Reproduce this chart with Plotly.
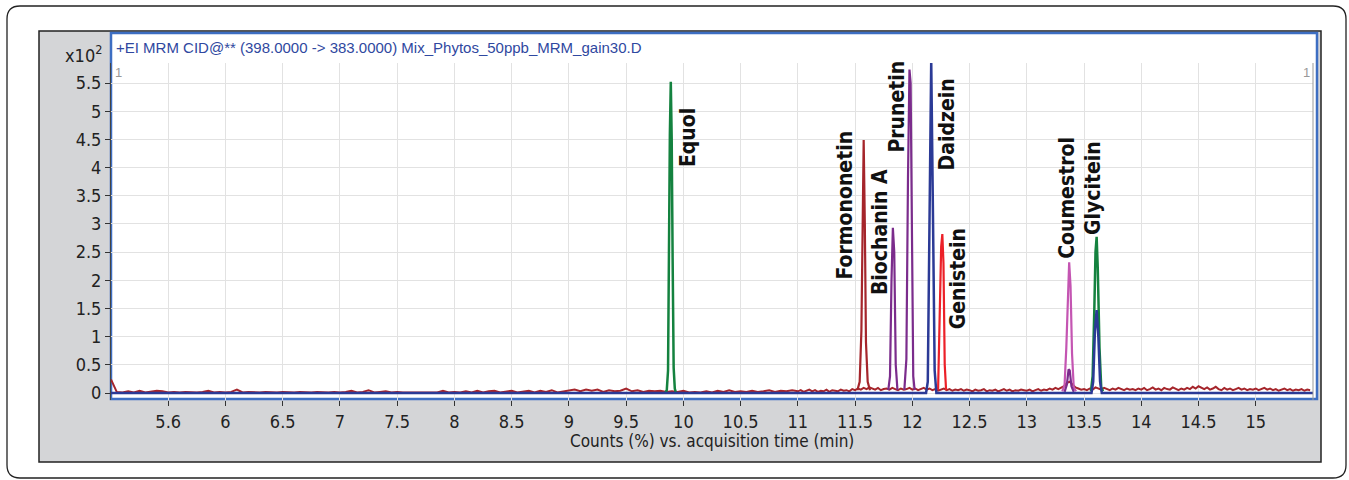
import plotly.graph_objects as go

# ---------------- data ----------------
x_tickvals = [5.5, 6, 6.5, 7, 7.5, 8, 8.5, 9, 9.5, 10, 10.5, 11, 11.5, 12, 12.5, 13, 13.5, 14, 14.5, 15]
x_ticktext = ["5.6", "6", "6.5", "7", "7.5", "8", "8.5", "9", "9.5", "10", "10.5", "11", "11.5", "12",
              "12.5", "13", "13.5", "14", "14.5", "15"]
y_tickvals = [0, 0.5, 1, 1.5, 2, 2.5, 3, 3.5, 4, 4.5, 5, 5.5]
y_ticktext = ["0", "0.5", "1", "1.5", "2", "2.5", "3", "3.5", "4", "4.5", "5", "5.5"]

# baseline noise (x10^2 counts), two sampled stretches
noise_a_start, noise_a_step = 5.0, 0.05
noise_a = [0.24, 0.02, 0.01, 0.03, 0.01, 0.04, 0.01, 0.02, 0.04, 0.03,
           0.01, 0.02, 0.01, 0.02, 0.01, 0.01, 0.02, 0.04, 0.01, 0.02,
           0.01, 0.02, 0.06, 0.01, 0.02, 0.01, 0.01, 0.02, 0.01, 0.01,
           0.02, 0.01, 0.01, 0.02, 0.01, 0.01, 0.02, 0.01, 0.01, 0.02,
           0.01, 0.02, 0.04, 0.01, 0.02, 0.05, 0.01, 0.02, 0.03, 0.01,
           0.02, 0.01, 0.01, 0.02, 0.01, 0.01, 0.02, 0.01, 0.04, 0.01,
           0.02, 0.01, 0.03, 0.01, 0.04, 0.01, 0.03, 0.04, 0.01, 0.03,
           0.04, 0.01, 0.03, 0.04, 0.01, 0.04, 0.02, 0.05, 0.01, 0.03,
           0.05, 0.06, 0.03, 0.06, 0.04, 0.06, 0.02, 0.05, 0.03, 0.04,
           0.08, 0.03, 0.05, 0.02, 0.04, 0.03, 0.04, 0.02, 0.03, 0.02,
           0.04, 0.01, 0.02, 0.01, 0.03, 0.01, 0.04, 0.02, 0.05, 0.02,
           0.03, 0.02, 0.04, 0.02, 0.03, 0.05, 0.02, 0.04, 0.03, 0.05]
noise_b_start, noise_b_step = 11.0, 0.025
noise_b = [0.03, 0.05, 0.02, 0.04, 0.06, 0.03, 0.05, 0.02, 0.04, 0.03, 0.06, 0.02, 0.05, 0.04, 0.03, 0.06, 0.04, 0.05, 0.03, 0.07,
           0.05, 0.08, 0.06, 0.09, 0.07, 0.10, 0.08, 0.06, 0.09, 0.05, 0.07, 0.08, 0.06, 0.09, 0.07, 0.05, 0.08, 0.06, 0.07, 0.09,
           0.06, 0.08, 0.05, 0.07, 0.09, 0.06, 0.08, 0.05, 0.07, 0.04, 0.06, 0.08, 0.05, 0.07, 0.04, 0.06, 0.05, 0.07, 0.04, 0.06,
           0.05, 0.03, 0.06, 0.04, 0.05, 0.07, 0.03, 0.05, 0.04, 0.06, 0.03, 0.05, 0.07, 0.04, 0.06, 0.03, 0.05, 0.04, 0.06, 0.05,
           0.04, 0.06, 0.03, 0.05, 0.07, 0.04, 0.06, 0.05, 0.08, 0.06, 0.09, 0.07, 0.10, 0.12, 0.18, 0.20, 0.15, 0.10, 0.08, 0.06,
           0.07, 0.05, 0.08, 0.06, 0.10, 0.08, 0.06, 0.09, 0.07, 0.05, 0.08, 0.06, 0.09, 0.07, 0.05, 0.08, 0.06, 0.07, 0.05, 0.08,
           0.06, 0.09, 0.05, 0.07, 0.10, 0.06, 0.08, 0.05, 0.09, 0.07, 0.06, 0.10, 0.07, 0.05, 0.08, 0.06, 0.09, 0.07, 0.11, 0.08,
           0.12, 0.09, 0.07, 0.10, 0.06, 0.08, 0.11, 0.07, 0.05, 0.09, 0.06, 0.08, 0.05, 0.07, 0.09, 0.06, 0.08, 0.05, 0.07, 0.06,
           0.08, 0.05, 0.07, 0.09, 0.06, 0.08, 0.05, 0.07, 0.04, 0.06, 0.08, 0.05, 0.07, 0.04, 0.06, 0.05, 0.07, 0.04, 0.06, 0.05]

# peaks (time in min, counts x10^2)
equol_t = [9.84, 9.855, 9.866, 9.874, 9.882, 9.89, 9.898, 9.906, 9.915, 9.925, 9.935]
equol_y = [0.0, 0.05, 0.4, 2.8, 4.6, 5.52, 4.5, 2.4, 0.45, 0.08, 0.0]
formo_t = [11.52, 11.54, 11.555, 11.565, 11.575, 11.585, 11.595, 11.61, 11.63]
formo_y = [0.05, 0.2, 1.1, 3.4, 4.49, 3.0, 0.9, 0.2, 0.05]
bioch_t = [11.79, 11.805, 11.818, 11.83, 11.842, 11.855, 11.87]
bioch_y = [0.05, 0.3, 2.0, 2.93, 2.5, 0.5, 0.05]
prune_t = [11.93, 11.948, 11.962, 11.975, 11.985, 11.995, 12.008, 12.02]
prune_y = [0.05, 0.6, 3.8, 5.74, 5.5, 2.5, 0.3, 0.05]
daid_t = [12.12, 12.135, 12.15, 12.165, 12.18, 12.195, 12.21]
daid_y = [0.0, 0.2, 3.5, 5.9, 3.2, 0.4, 0.0]
geni_t = [12.225, 12.24, 12.252, 12.262, 12.272, 12.283, 12.295]
geni_y = [0.05, 1.2, 2.6, 2.82, 2.3, 0.5, 0.05]
coum_t = [13.31, 13.33, 13.345, 13.358, 13.37, 13.382, 13.395, 13.41, 13.43]
coum_y = [0.03, 0.15, 0.8, 1.8, 2.32, 1.9, 0.7, 0.1, 0.03]
coum2_t = [13.33, 13.35, 13.365, 13.375, 13.39, 13.41]
coum2_y = [0.02, 0.15, 0.42, 0.4, 0.12, 0.02]
glyc_t = [13.56, 13.575, 13.59, 13.60, 13.61, 13.62, 13.635, 13.65, 13.665]
glyc_y = [0.03, 0.3, 1.5, 2.5, 2.77, 2.2, 0.8, 0.1, 0.03]
glyc2_t = [13.565, 13.58, 13.595, 13.61, 13.625, 13.64, 13.655]
glyc2_y = [0.0, 0.2, 1.1, 1.47, 1.0, 0.2, 0.0]

compounds = ["Equol", "Formononetin", "Biochanin A", "Prunetin", "Daidzein", "Genistein", "Coumestrol", "Glycitein"]
label_x = [10.04, 11.41, 11.72, 11.87, 12.30, 12.40, 13.35, 13.58]
label_y = [4.54, 3.34, 2.86, 5.09, 4.76, 2.02, 3.46, 3.64]

header = "+EI MRM CID@** (398.0000 -> 383.0000) Mix_Phytos_50ppb_MRM_gain30.D"

# ---------------- styling / layout ----------------
W, H = 1349, 480
L, R, T, B = 111, 36, 63, 80
PW, PH = W - L - R, H - T - B
NARROW = "DejaVu Sans Condensed, Liberation Sans Narrow, sans-serif"
DARKRED = "#a5252b"
NAVY = "#2b3a96"
GREEN = "#14823f"
PURPLE = "#7b2c8c"
RED = "#ec2028"
PINK = "#c455b2"


def pxx(x):
    return (x - L) / PW


def pxy(y):
    return (H - B - y) / PH


def rounded_rect(x0, y0, x1, y1, r):
    ax0, ax1 = pxx(x0), pxx(x1)
    ay0, ay1 = pxy(y0), pxy(y1)
    rx, ry = r / PW, r / PH
    return (f"M {ax0 + rx} {ay0} L {ax1 - rx} {ay0} Q {ax1} {ay0} {ax1} {ay0 - ry} "
            f"L {ax1} {ay1 + ry} Q {ax1} {ay1} {ax1 - rx} {ay1} "
            f"L {ax0 + rx} {ay1} Q {ax0} {ay1} {ax0} {ay1 + ry} "
            f"L {ax0} {ay0 - ry} Q {ax0} {ay0} {ax0 + rx} {ay0} Z")


fig = go.Figure()

na_t = [noise_a_start + i * noise_a_step for i in range(len(noise_a))]
nb_t = [noise_b_start + i * noise_b_step for i in range(len(noise_b))]
fig.add_trace(go.Scatter(x=na_t + nb_t, y=noise_a + noise_b, mode="lines",
                         line=dict(color=DARKRED, width=2)))


def peak(t, y, color, width=2.2):
    fig.add_trace(go.Scatter(x=t, y=y, mode="lines", line=dict(color=color, width=width)))


peak(formo_t, formo_y, DARKRED)
peak(bioch_t, bioch_y, PURPLE)
peak(prune_t, prune_y, PURPLE)
peak(geni_t, geni_y, RED)
peak(coum_t, coum_y, PINK)
peak(coum2_t, coum2_y, PURPLE)
peak(equol_t, equol_y, GREEN, 2.5)
peak(glyc_t, glyc_y, GREEN, 2.5)

# navy trace: flat baseline with its two peaks
navy_t = [5.0] + daid_t + glyc2_t + [15.5]
navy_y = [0.0] + daid_y + glyc2_y + [0.0]
fig.add_trace(go.Scatter(x=navy_t, y=navy_y, mode="lines", line=dict(color=NAVY, width=2.5)))

shapes = [
    dict(type="path", xref="paper", yref="paper", path=rounded_rect(7, 6, 1346, 478, 13),
         line=dict(color="#222", width=1.3), fillcolor="white", layer="below"),
    dict(type="rect", xref="paper", yref="paper", x0=pxx(39), x1=pxx(1321), y0=pxy(462), y1=pxy(31),
         line=dict(color="#222", width=1.5), fillcolor="#d4d5d7", layer="below"),
    dict(type="rect", xref="paper", yref="paper", x0=pxx(111), x1=pxx(1317), y0=pxy(399), y1=pxy(33),
         line=dict(color="#3d6ec2", width=2.5), fillcolor="white", layer="below"),
    dict(type="line", xref="paper", yref="paper", x0=1, x1=1, y0=0, y1=1,
         line=dict(color="#999", width=1), layer="above"),
]

annotations = [
    dict(xref="paper", yref="paper", x=pxx(114), y=pxy(48), text=header, showarrow=False,
         xanchor="left", yanchor="middle", font=dict(family="Liberation Sans, Arial, sans-serif", size=15, color="#2f48a0")),
    dict(xref="paper", yref="paper", x=pxx(104), y=pxy(54), text="x10<sup>2</sup>", showarrow=False,
         xanchor="right", yanchor="middle", font=dict(family=NARROW, size=18, color="#222")),
    dict(xref="paper", yref="paper", x=pxx(118), y=pxy(72), text="1", showarrow=False,
         xanchor="center", yanchor="middle", font=dict(family="Liberation Sans, Arial, sans-serif", size=13, color="#999")),
    dict(xref="paper", yref="paper", x=pxx(1306), y=pxy(72), text="1", showarrow=False,
         xanchor="center", yanchor="middle", font=dict(family="Liberation Sans, Arial, sans-serif", size=13, color="#999")),
    dict(xref="paper", yref="paper", x=0.5, y=pxy(441), text="Counts (%) vs. acquisition time (min)", showarrow=False,
         xanchor="center", yanchor="middle", font=dict(family=NARROW, size=17, color="#222")),
]
for name, lx, ly in zip(compounds, label_x, label_y):
    annotations.append(dict(x=lx, y=ly, xref="x", yref="y", text=f"<b>{name}</b>", showarrow=False,
                            textangle=-90, xanchor="center", yanchor="middle",
                            font=dict(family=NARROW, size=21, color="#111")))

fig.update_layout(
    width=W, height=H, autosize=False,
    margin=dict(l=L, r=R, t=T, b=B, pad=0),
    paper_bgcolor="white", plot_bgcolor="rgba(0,0,0,0)",
    showlegend=False,
    shapes=shapes, annotations=annotations,
    xaxis=dict(range=[5.0, 15.5], tickmode="array", tickvals=x_tickvals, ticktext=x_ticktext,
               ticks="outside", ticklen=5, tickcolor="#333", tickwidth=1,
               showgrid=True, gridcolor="#e2e2e2", gridwidth=1, zeroline=False, showline=False,
               tickfont=dict(family=NARROW, size=18, color="#222")),
    yaxis=dict(range=[-0.124, 5.855], tickmode="array", tickvals=y_tickvals, ticktext=y_ticktext,
               ticks="outside", ticklen=5, tickcolor="#333", tickwidth=1,
               showgrid=True, gridcolor="#e2e2e2", gridwidth=1, zeroline=False,
               showline=True, linecolor="#444", linewidth=1,
               tickfont=dict(family=NARROW, size=18, color="#222")),
)

# remove the default page margin so the figure sits at the window's top-left corner
fig.write_html("out.html", config={"displayModeBar": False},
               post_script="document.body.style.margin='0';")
